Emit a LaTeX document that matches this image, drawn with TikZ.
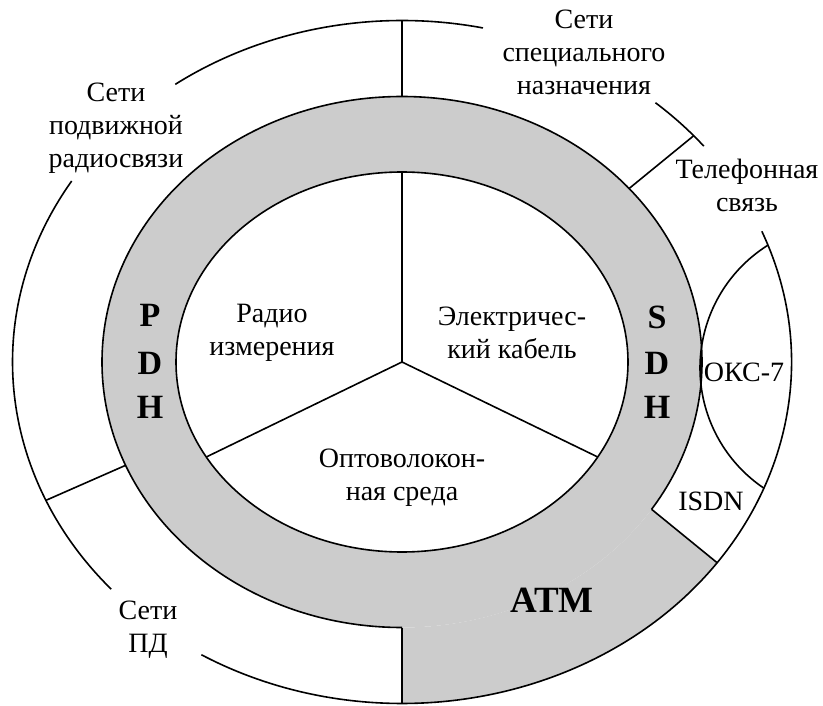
\documentclass[tikz,border=0pt]{standalone}
\usepackage{fontspec}
\setmainfont{Liberation Serif}
\usepackage{xcolor}
\usetikzlibrary{calc,positioning}
\definecolor{ringgray}{RGB}{204,204,204}

\begin{document}
\begin{tikzpicture}[
        x=1pt, y=-1pt,
        line width=1.6pt,
        lbl/.style={align=center, inner sep=0pt, font=\fontsize{28}{33}\selectfont},
        letter/.style={inner sep=0pt, font=\fontsize{34}{40}\selectfont\bfseries},
        atmlbl/.style={inner sep=0pt, font=\fontsize{37}{44}\selectfont\bfseries}
    ]
        \useasboundingbox (0,0) rectangle (823,706);
        \coordinate (c) at (402,362);
        \coordinate (lens) at (845,368);

        \fill[ringgray] ($(c)+(90:300 and 265.5)$) arc[start angle=90, end angle=33.7, x radius=300, y radius=265.5]
            -- ($(c)+(36:389.5 and 341.5)$) arc[start angle=36, end angle=90, x radius=389.5, y radius=341.5] -- cycle;
        \fill[ringgray, even odd rule] (c) ellipse[x radius=300, y radius=265.5] (c) ellipse[x radius=226, y radius=190];
        \draw (c) ellipse[x radius=226, y radius=190];
        \draw ($(c)+(90:300 and 265.5)$) arc[start angle=90, end angle=393.7, x radius=300, y radius=265.5];

        \draw ($(c)+(-125.6:389.5 and 341.5)$) arc[start angle=-125.6, end angle=-78, x radius=389.5, y radius=341.5];
        \draw ($(c)+(-49.4:389.5 and 341.5)$) arc[start angle=-49.4, end angle=-39.2, x radius=389.5, y radius=341.5];
        \draw ($(c)+(-22.5:389.5 and 341.5)$) arc[start angle=-22.5, end angle=121, x radius=389.5, y radius=341.5];
        \draw ($(c)+(138.3:389.5 and 341.5)$) arc[start angle=138.3, end angle=212, x radius=389.5, y radius=341.5];
        \draw ($(lens)+(238:145)$) arc[start angle=238, end angle=124, radius=145];

        \draw ($(c)+(-90:300 and 265.5)$) -- ($(c)+(-90:389.5 and 341.5)$);
        \draw ($(c)+(-40.8:300 and 265.5)$) -- ($(c)+(-41.5:389.5 and 341.5)$);
        \draw ($(c)+(157.1:300 and 265.5)$) -- ($(c)+(156.1:389.5 and 341.5)$);
        \draw ($(c)+(90:300 and 265.5)$) -- ($(c)+(90:389.5 and 341.5)$);
        \draw ($(c)+(33.7:300 and 265.5)$) -- ($(c)+(36:389.5 and 341.5)$);

        \draw (c) -- ($(c)+(-90:226 and 190)$);
        \draw (c) -- ($(c)+(150:226 and 190)$);
        \draw (c) -- ($(c)+(30:226 and 190)$);

        \node[lbl] (special) at (584,52) {Сети\\специального\\назначения};
        \node[lbl] (mobile) at (116,128) {Сети\\подвижной\\радиосвязи};
        \node[lbl] (phone) at (747,185) {Телефонная\\связь};
        \node[lbl] (pd) at (148,630) {Сети\\ПД};
        \node[lbl] (radio) at (272,333) {Радио\\измерения};
        \node[lbl] (cable) at (512,333) {Электричес-\\кий кабель};
        \node[lbl] (fiber) at (402,478) {Оптоволокон-\\ная среда};
        \node[lbl] (oks) at (744,372) {ОКС-7};
        \node[lbl] (isdn) at (711,501) {ISDN};

        \node[letter] (pdhP) at (150,315) {P};
        \node[letter] (pdhD) at (150,363) {D};
        \node[letter] (pdhH) at (150,407) {H};
        \node[letter] (sdhS) at (657,317) {S};
        \node[letter] (sdhD) at (657,363) {D};
        \node[letter] (sdhH) at (657,407) {H};
        \node[atmlbl] (atm) at (552,600) {ATM};
    \end{tikzpicture}
\end{document}
